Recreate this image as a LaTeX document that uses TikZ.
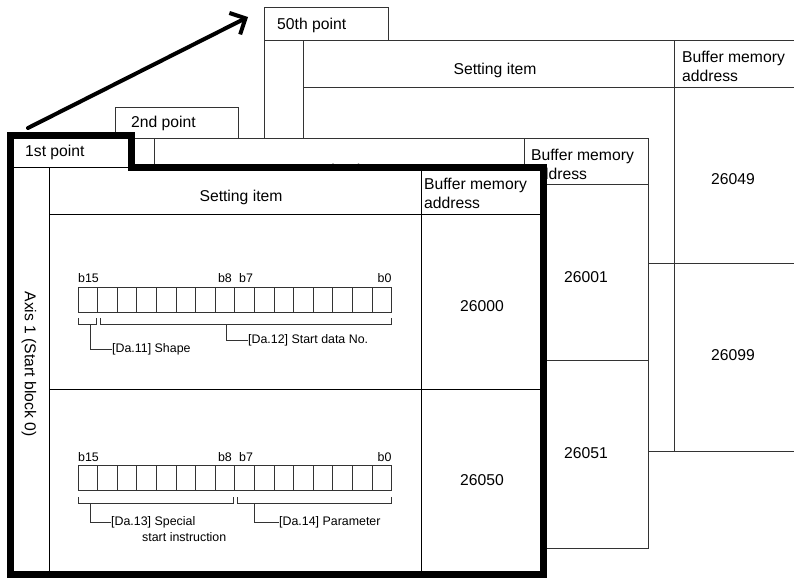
\documentclass[tikz,border=0pt]{standalone}
\usepackage{fontspec}
\setmainfont{Liberation Sans}
\usetikzlibrary{arrows.meta,positioning}
\definecolor{GridLine}{HTML}{333333}
\definecolor{FrameInk}{HTML}{000000}

\tikzset{
  gridline/.style={draw=GridLine, line width=1pt},
  bigtext/.style={inner sep=0pt, font=\fontsize{15.7}{19}\selectfont},
  bittext/.style={inner sep=0pt, font=\fontsize{12.4}{15}\selectfont},
  bitcell/.style={draw=GridLine, line width=1pt},
  pointframe/.style={draw=FrameInk, line width=7pt, line join=miter}
}

\begin{document}
\begin{tikzpicture}[x=1pt,y=-1pt]
    \useasboundingbox (0,0) rectangle (794,578);

    % 50th point (back)
    \draw[gridline] (264,41) rectangle (388,8);
    \node[bigtext, anchor=west] (tabl) at (277,25) {50th point};
    \draw[gridline] (264,138) -- (264,41) -- (794,41);
    \draw[gridline] (303,41) -- (303,138);
    \draw[gridline] (303,87) -- (794,87);
    \draw[gridline] (674,41) -- (674,451);
    \draw[gridline] (648,263) -- (794,263);
    \draw[gridline] (648,451) -- (794,451);
    \node[bigtext] (itml) at (495,70) {Setting item};
    \node[bigtext, anchor=west, align=left] (bufl) at (682,66) {Buffer memory\\address};
    \node[bigtext] (adrla) at (733,179) {26049};
    \node[bigtext] (adrlb) at (733,355) {26099};

    % 2nd point
    \filldraw[gridline, fill=white] (115,107) -- (238,107) -- (238,138) -- (648,138)
      -- (648,548) -- (115,548) -- cycle;
    \draw[gridline] (115,138) -- (238,138);
    \node[bigtext, anchor=west] (tabb) at (131,123) {2nd point};
    \draw[gridline] (154,138) -- (154,548);
    \draw[gridline] (524,138) -- (524,548);
    \draw[gridline] (154,184) -- (648,184);
    \draw[gridline] (154,360) -- (648,360);
    \node[bigtext] (itmb) at (345,171) {Setting item};
    \node[bigtext, anchor=west, align=left] (bufb) at (531,164) {Buffer memory\\address};
    \node[bigtext] (adrba) at (586,277) {26001};
    \node[bigtext] (adrbb) at (586,453) {26051};

    % 1st point (front)
    \fill[white] (10,135) -- (131,135) -- (131,167) -- (543,167) -- (543,574)
      -- (10,574) -- cycle;
    \draw[gridline, draw=FrameInk] (10,167) -- (131,167);
    \draw[gridline, draw=FrameInk] (49,167) -- (49,574);
    \draw[gridline, draw=FrameInk] (421,167) -- (421,574);
    \draw[gridline, draw=FrameInk] (49,214) -- (543,214);
    \draw[gridline, draw=FrameInk] (49,389) -- (543,389);
    \node[bigtext, anchor=west] (taba) at (25,152) {1st point};
    \node[bigtext, rotate=-90] (axis) at (29,364) {Axis 1 (Start block 0)};
    \node[bigtext] (itma) at (241,197) {Setting item};
    \node[bigtext, anchor=west, align=left] (bufa) at (424,193) {Buffer memory\\address};
    \node[bigtext] (adraa) at (482,306) {26000};
    \node[bigtext] (adrab) at (482,480) {26050};

    % bit layout, first word
    \foreach \i in {0,...,15}
      \draw[bitcell] (78+\i*19.6,287) rectangle ++(19.6,25);
    \node[bittext, anchor=west] (hia) at (78,278) {b15};
    \node[bittext, anchor=east] (mida) at (232,278) {b8};
    \node[bittext, anchor=west] (midb) at (239,278) {b7};
    \node[bittext, anchor=east] (loa) at (391.6,278) {b0};
    \draw[bitcell] (78,318) -- (78,324) -- (96,324) -- (96,318);
    \draw[bitcell] (100,318) -- (100,324) -- (391.6,324) -- (391.6,318);
    \coordinate (shapefoot) at (90,324);
    \coordinate (datafoot) at (226,324);
    \node[bittext, anchor=west] (shape) at (112,349) {[Da.11] Shape};
    \node[bittext, anchor=west] (startno) at (248,340) {[Da.12] Start data No.};
    \draw[bitcell] (shapefoot) |- (shape.west);
    \draw[bitcell] (datafoot) |- (startno.west);

    % bit layout, second word
    \foreach \i in {0,...,15}
      \draw[bitcell] (78+\i*19.6,465) rectangle ++(19.6,25);
    \node[bittext, anchor=west] (hib) at (78,457) {b15};
    \node[bittext, anchor=east] (midc) at (232,457) {b8};
    \node[bittext, anchor=west] (midd) at (239,457) {b7};
    \node[bittext, anchor=east] (lob) at (391.6,457) {b0};
    \draw[bitcell] (78,497) -- (78,503) -- (233,503) -- (233,497);
    \draw[bitcell] (237,497) -- (237,503) -- (391.6,503) -- (391.6,497);
    \coordinate (specfoot) at (90,503);
    \coordinate (parfoot) at (254,503);
    \node[bittext, anchor=west] (special) at (111,522) {[Da.13] Special};
    \node[bittext, anchor=west] (specialb) at (142,537) {start instruction};
    \node[bittext, anchor=west] (param) at (279,522) {[Da.14] Parameter};
    \draw[bitcell] (specfoot) |- (special.west);
    \draw[bitcell] (parfoot) |- (param.west);

    \draw[pointframe] (10,135) -- (131,135) -- (131,167) -- (543,167) -- (543,574)
      -- (10,574) -- cycle;

    % direction of the points
    \coordinate (arrfrom) at (28,128);
    \coordinate (arrto) at (248,17);
    \draw[-{Straight Barb[length=12pt,width=24pt]}, line width=4pt, line cap=round] (arrfrom) -- (arrto);
  \end{tikzpicture}
\end{document}
